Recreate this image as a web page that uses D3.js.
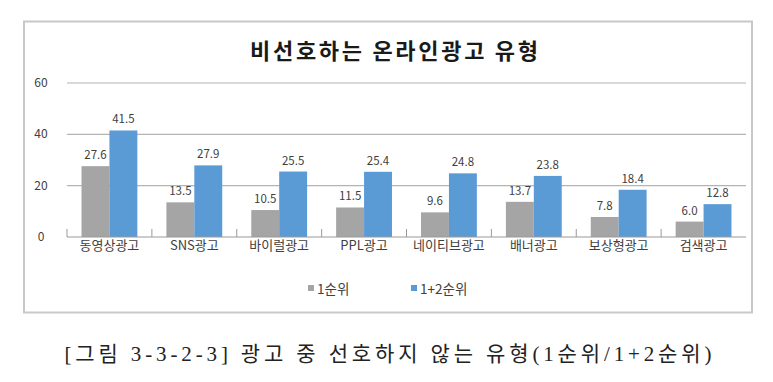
<!DOCTYPE html>
<html>
    <head>
        <meta charset="UTF-8" />
        <title>비선호하는 온라인광고 유형</title>
        <style>
            body { margin: 0; background: #fff; }
        </style>
    </head>
    <body>
        <script src="https://d3js.org/d3.v7.min.js"></script>
        <script type="text/javascript">
            var categories = ["동영상광고", "SNS광고", "바이럴광고", "PPL광고", "네이티브광고", "배너광고", "보상형광고", "검색광고"];
            var seriesNames = ["1순위", "1+2순위"];
            var rank1 = [27.6, 13.5, 10.5, 11.5, 9.6, 13.7, 7.8, 6.0];
            var rank12 = [41.5, 27.9, 25.5, 25.4, 24.8, 23.8, 18.4, 12.8];
            var yTicks = [0, 20, 40, 60];

            var colors = ["#a5a5a5", "#5b9bd5"];
            var sansFont = "'Malgun Gothic', 'Noto Sans CJK KR', sans-serif";

            var svg = d3
                .select("body")
                .append("svg")
                .attr("width", 773)
                .attr("height", 382);

            // chart frame
            svg.append("rect")
                .attr("x", 24)
                .attr("y", 21.5)
                .attr("width", 728)
                .attr("height", 291)
                .attr("fill", "#fff")
                .attr("stroke", "#c8c8c8")
                .attr("stroke-width", 2);

            svg.append("text")
                .attr("x", 394)
                .attr("y", 59)
                .attr("text-anchor", "middle")
                .attr("textLength", 288)
                .attr("lengthAdjust", "spacing")
                .style("font", "bold 22px " + sansFont)
                .attr("fill", "#1a1a1a")
                .text("비선호하는 온라인광고 유형");

            var x = d3.scaleBand()
                .domain(categories)
                .range([67, 746]);

            var xInner = d3.scaleBand()
                .domain(seriesNames)
                .range([0, x.bandwidth()])
                .paddingOuter(0.52);

            var y = d3.scaleLinear()
                .domain([0, 60])
                .range([237, 83]);

            // gridlines
            svg.append("g")
                .selectAll("line")
                .data(yTicks.filter(function(d) { return d > 0; }))
                .join("line")
                .attr("x1", 67)
                .attr("x2", 746)
                .attr("y1", function(d) { return y(d); })
                .attr("y2", function(d) { return y(d); })
                .attr("stroke", "#b4b4b4")
                .attr("stroke-width", 1.2);

            svg.append("g")
                .selectAll("text")
                .data(yTicks)
                .join("text")
                .attr("x", 41)
                .attr("y", function(d) { return y(d) + 4; })
                .attr("text-anchor", "middle")
                .style("font", "12px " + sansFont)
                .attr("fill", "#404040")
                .text(function(d) { return d; });

            var rows = categories.map(function(c, i) {
                return { cat: c, vals: [rank1[i], rank12[i]] };
            });

            var groups = svg.append("g")
                .selectAll("g")
                .data(rows)
                .join("g")
                .attr("transform", function(d) {
                    return "translate(" + x(d.cat) + ",0)";
                });

            groups.selectAll("rect")
                .data(function(d) {
                    return d.vals.map(function(v, i) { return { s: seriesNames[i], v: v, i: i }; });
                })
                .join("rect")
                .attr("x", function(d) { return xInner(d.s); })
                .attr("width", xInner.bandwidth())
                .attr("y", function(d) { return y(d.v); })
                .attr("height", function(d) { return y(0) - y(d.v); })
                .attr("fill", function(d) { return colors[d.i]; });

            groups.selectAll("text.val")
                .data(function(d) {
                    return d.vals.map(function(v, i) { return { s: seriesNames[i], v: v }; });
                })
                .join("text")
                .attr("class", "val")
                .attr("x", function(d) { return xInner(d.s) + xInner.bandwidth() / 2; })
                .attr("y", function(d) { return y(d.v) - 7; })
                .attr("text-anchor", "middle")
                .style("font", "11.5px " + sansFont)
                .attr("fill", "#404040")
                .text(function(d) { return d3.format(".1f")(d.v); });

            // x axis
            svg.append("line")
                .attr("x1", 67)
                .attr("x2", 746)
                .attr("y1", y(0))
                .attr("y2", y(0))
                .attr("stroke", "#9a9a9a")
                .attr("stroke-width", 1.2);

            svg.append("g")
                .selectAll("line")
                .data(categories)
                .join("line")
                .attr("x1", function(d) { return x(d); })
                .attr("x2", function(d) { return x(d); })
                .attr("y1", y(0) - 8)
                .attr("y2", y(0))
                .attr("stroke", "#9a9a9a");

            svg.append("g")
                .selectAll("text")
                .data(categories)
                .join("text")
                .attr("x", function(d) { return x(d) + x.bandwidth() / 2; })
                .attr("y", 250)
                .attr("text-anchor", "middle")
                .style("font", "13px " + sansFont)
                .attr("fill", "#404040")
                .text(function(d) { return d; });

            // legend
            var legendX = [308, 411];
            var legend = svg.append("g")
                .selectAll("g")
                .data(seriesNames)
                .join("g")
                .attr("transform", function(d, i) {
                    return "translate(" + legendX[i] + ",289)";
                });

            legend.append("rect")
                .attr("x", 0)
                .attr("y", -4)
                .attr("width", 6)
                .attr("height", 6)
                .attr("fill", function(d, i) { return colors[i]; });

            legend.append("text")
                .attr("x", 9)
                .attr("y", 4.5)
                .style("font", "13.5px " + sansFont)
                .attr("fill", "#404040")
                .text(function(d) { return d; });

            // caption
            svg.append("text")
                .attr("x", 388)
                .attr("y", 361)
                .attr("text-anchor", "middle")
                .attr("textLength", 647)
                .attr("lengthAdjust", "spacing")
                .style("font", "21px 'Liberation Serif', 'Noto Sans CJK KR', serif")
                .attr("fill", "#222")
                .text("[그림 3-3-2-3] 광고 중 선호하지 않는 유형(1순위/1+2순위)");
        </script>
    </body>
</html>
